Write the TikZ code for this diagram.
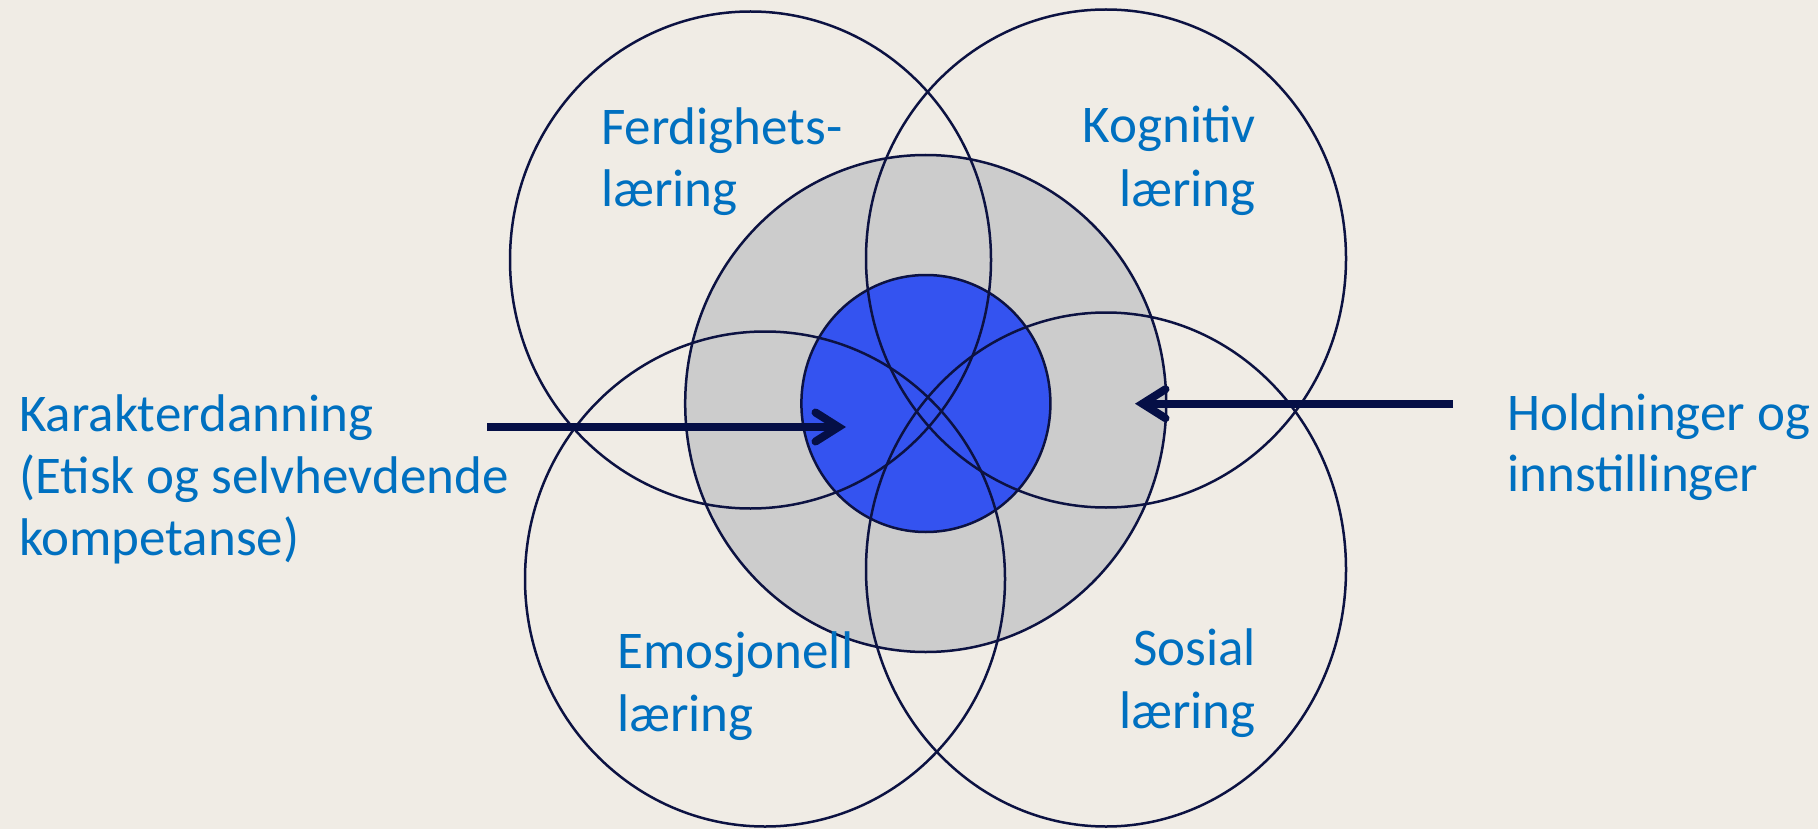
\documentclass[tikz,border=0pt]{standalone}
\usepackage{fontspec}
\setmainfont{Carlito}
\usetikzlibrary{calc,shapes.geometric}
\definecolor{bgc}{RGB}{240,236,229}
\definecolor{ringc}{RGB}{12,18,66}
\definecolor{arrc}{RGB}{5,15,70}
\definecolor{grayc}{RGB}{204,204,204}
\definecolor{bluec}{RGB}{52,83,240}
\definecolor{txtc}{RGB}{0,112,192}
\tikzset{
  ring/.style={ellipse, draw=ringc, line width=2.5pt, inner sep=0pt, outer sep=0pt},
  shaft/.style={draw=arrc, line width=8pt},
  barb/.style={draw=arrc, line width=8pt, line cap=round, line join=miter},
  lbl/.style={text=txtc, inner sep=0pt, font=\fontsize{53}{63}\selectfont}
}
\begin{document}
\begin{tikzpicture}[x=1pt,y=-1pt]
\fill[bgc] (0,0) rectangle (1818,829);
\useasboundingbox (0,0) rectangle (1818,829);
% filled centre discs
\node[ring, fill=grayc, minimum width=481pt, minimum height=497pt] (grayring) at (925.7,403.5) {};
\node[ring, fill=bluec, minimum width=249pt, minimum height=257pt] (bluering) at (925.9,403.5) {};
% four big circles
\node[ring, minimum width=481pt, minimum height=497pt] (tl) at (750.5,260) {};
\node[ring, minimum width=480pt, minimum height=498pt] (tr) at (1106,258.5) {};
\node[ring, minimum width=480pt, minimum height=495pt] (bl) at (765,579) {};
\node[ring, minimum width=480pt, minimum height=514pt] (br) at (1106,569.5) {};
% arrows
\coordinate (ltail) at (487,427);
\coordinate (ltip) at (838.5,427);
\coordinate (rtail) at (1453,403.7);
\coordinate (rtip) at (1142.5,403.7);
\draw[shaft] (ltail) -- (ltip);
\draw[barb] ($(ltip)+(-23,-14.5)$) -- (ltip) -- ($(ltip)+(-23,14.5)$);
\draw[shaft] (rtail) -- (rtip);
\draw[barb] ($(rtip)+(23,-14.5)$) -- (rtip) -- ($(rtip)+(23,14.5)$);
% labels
\node[lbl, anchor=base west] (f1) at (601,145) {Ferdighets-};
\node[lbl, anchor=base west] (f2) at (601,207) {læring};
\node[lbl, anchor=base east] (k1) at (1256,143) {Kognitiv};
\node[lbl, anchor=base east] (k2) at (1256,207) {læring};
\node[lbl, anchor=base west] (e1) at (617,668) {Emosjonell};
\node[lbl, anchor=base west] (e2) at (617,731) {læring};
\node[lbl, anchor=base east] (s1) at (1256,665) {Sosial};
\node[lbl, anchor=base east] (s2) at (1256,728) {læring};
\node[lbl, anchor=base west] (c1) at (19,431) {Karakterdanning};
\node[lbl, anchor=base west] (c2) at (19,493) {(Etisk og selvhevdende};
\node[lbl, anchor=base west] (c3) at (19,555) {kompetanse)};
\node[lbl, anchor=base west] (h1) at (1507,430) {Holdninger og};
\node[lbl, anchor=base west] (h2) at (1507,491) {innstillinger};
\end{tikzpicture}
\end{document}
